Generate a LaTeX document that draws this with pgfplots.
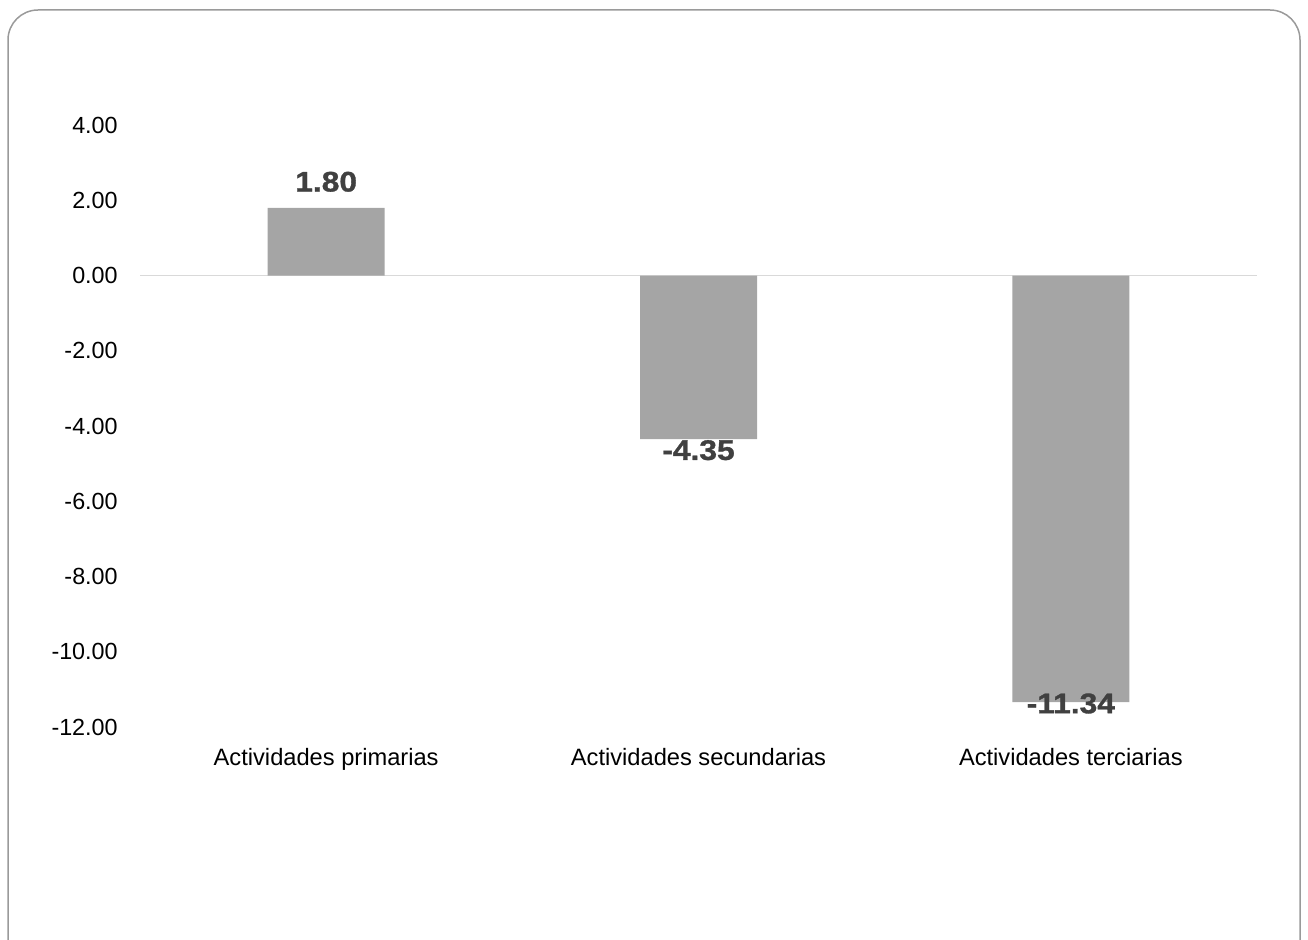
\documentclass[border=0pt]{standalone}
\usepackage{pgfplots}
\pgfplotsset{compat=1.18}
\usepackage{fontspec}
\setmainfont{Liberation Sans}
\newfontfamily\labfont{Liberation Sans}[FakeStretch=1.12, BoldFeatures={FakeBold=1.2}]
\definecolor{barc}{HTML}{A5A5A5}
\definecolor{labc}{HTML}{404040}
\definecolor{zeroc}{HTML}{D9D9D9}
\definecolor{framec}{HTML}{9A9A9A}
\pgfplotstableread{
x y dy
0 1.80 15.6
1 -4.35 -6.6
2 -11.34 -0.8
}\datatab
\begin{document}
\begin{tikzpicture}
\clip (0,0) rectangle (784.8pt,563.4pt);
\draw[framec, line width=0.9pt, rounded corners=18pt] (4.8pt,557.4pt) rectangle (780pt,-30pt);
\begin{axis}[
  at={(84pt,127.2pt)}, anchor=south west,
  scale only axis, width=670.2pt, height=361.2pt,
  xmin=-0.5, xmax=2.5, ymin=-12, ymax=4,
  ytick={-12,-10,...,4},
  xtick=data,
  xticklabels={Actividades primarias, Actividades secundarias, Actividades terciarias},
  axis line style={draw=none},
  major tick length=0pt,
  /pgf/number format/.cd, fixed, fixed zerofill, precision=2, assume math mode=true,
  /pgfplots/.cd,
  yticklabel style={font=\fontsize{14}{16}\selectfont, anchor=east, inner sep=0pt, xshift=-13.2pt, text=black},
  xticklabel style={font=\fontsize{14.2}{16}\selectfont, anchor=base, inner sep=0pt, yshift=-22.8pt, text=black},
  extra y ticks={0}, extra y tick labels={},
  extra y tick style={grid=major, major grid style={zeroc, line width=0.9pt}},
]
\addplot[ybar, bar width=70.2pt, fill=barc, draw=none,
  visualization depends on={\thisrow{dy} \as \dy},
  nodes near coords,
  point meta=explicit,
  every node near coord/.style={anchor=center, yshift=\dy pt, text=labc, font=\labfont\bfseries\fontsize{17}{20}\selectfont, /pgf/number format/.cd, fixed, fixed zerofill, precision=2, assume math mode=true},
] table[x=x, y=y, meta=y] {\datatab};
\end{axis}
\end{tikzpicture}
\end{document}
